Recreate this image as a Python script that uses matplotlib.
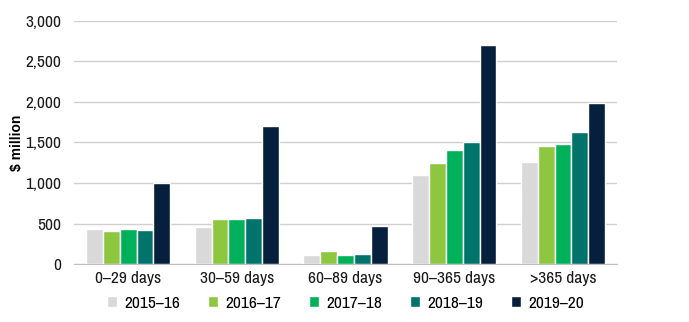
import matplotlib
matplotlib.use("Agg")
import matplotlib.pyplot as plt
import numpy as np

plt.rcParams['font.family'] = ['Archivo Narrow', 'Liberation Sans', 'DejaVu Sans']

categories = ['0–29 days', '30–59 days', '60–89 days', '90–365 days', '>365 days']
series_names = ['2015–16', '2016–17', '2017–18', '2018–19', '2019–20']
v2015 = [430, 465, 120, 1105, 1265]
v2016 = [410, 555, 165, 1250, 1460]
v2017 = [440, 560, 110, 1405, 1485]
v2018 = [425, 565, 130, 1510, 1635]
v2019 = [1005, 1700, 470, 2705, 1990]
yticks = [0, 500, 1000, 1500, 2000, 2500, 3000]
colors = ['#d9d9d9', '#8dc63f', '#00b159', '#00746b', '#061f3c']

fig = plt.figure(figsize=(6.89, 3.22), dpi=100)
ax = fig.add_axes([0.107, 0.179, 0.789, 0.757])

x = np.arange(len(categories))
w = 0.155
for i, (vals, name, c) in enumerate(zip([v2015, v2016, v2017, v2018, v2019], series_names, colors)):
    ax.bar(x + (i - 2) * w, vals, width=w, color=c, edgecolor='white', linewidth=1.0, label=name, zorder=3)

ax.set_xlim(-0.5, 4.5)
ax.set_ylim(0, 3000)
ax.set_yticks(yticks)
ax.set_yticklabels([f'{t:,}' for t in yticks])
ax.set_xticks(x)
ax.set_xticklabels(categories)
ax.grid(axis='y', color='#d0d0d0', linewidth=1.0, zorder=0)
for s in ['top', 'right', 'left']:
    ax.spines[s].set_visible(False)
ax.spines['bottom'].set_color('#bfbfbf')
ax.tick_params(axis='both', length=0, labelsize=12.5, colors='#1a1a1a')
ax.tick_params(axis='x', pad=5)
ax.tick_params(axis='y', pad=9)
ax.set_ylabel('$ million', fontsize=10, fontweight='bold', labelpad=1,
              family=['Liberation Sans', 'DejaVu Sans'])

ax.legend(loc='center', bbox_to_anchor=(0.5, -0.16), ncol=5, frameon=False,
          fontsize=12.5, handlelength=0.6, handleheight=0.6, columnspacing=1.6, handletextpad=0.4)

fig.savefig('out.png', dpi=100)
